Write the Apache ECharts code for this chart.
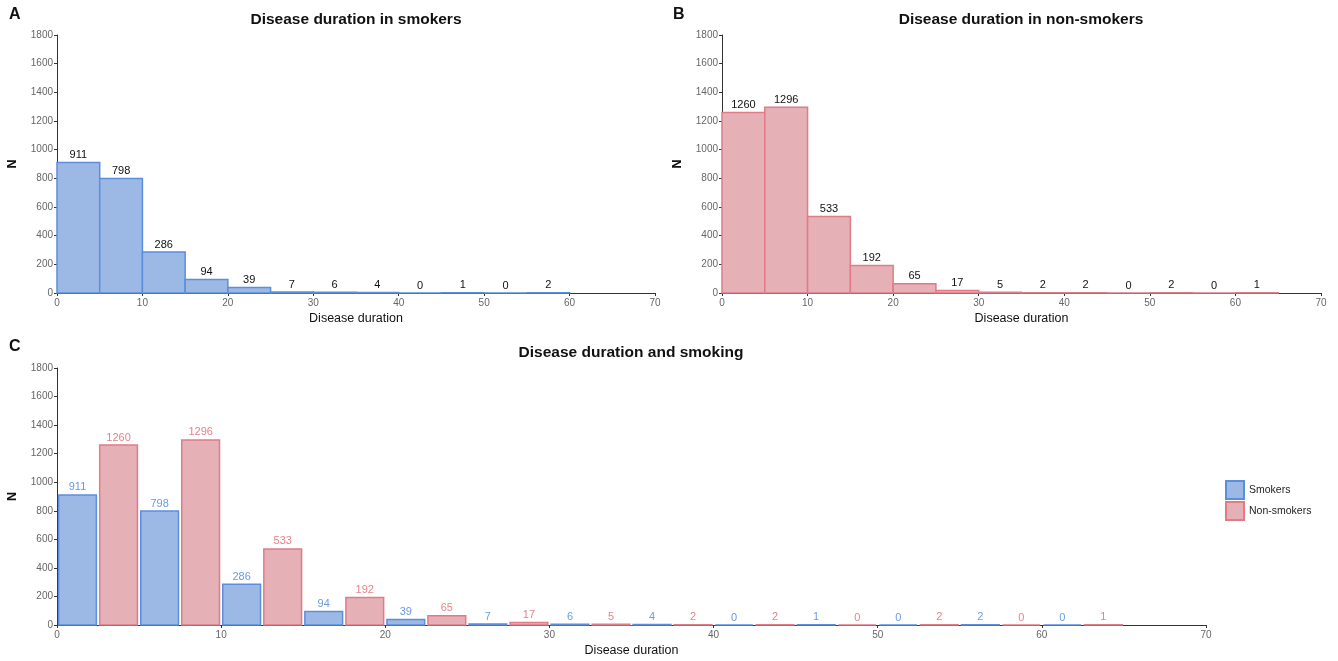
<!DOCTYPE html>
<html>
<head>
<meta charset="utf-8">
<script src="https://cdn.jsdelivr.net/npm/echarts@6/dist/echarts.min.js"></script>
<style>
html,body{margin:0;padding:0;background:#fff;}
#chart{width:1338px;height:661px;}
</style>
</head>
<body>
<div id="chart"></div>
<script>
// ---- data ----
const smokerBinStarts = [0, 5, 10, 15, 20, 25, 30, 35, 40, 45, 50, 55];
const smokers = [911, 798, 286, 94, 39, 7, 6, 4, 0, 1, 0, 2];
const nonSmokerBinStarts = [0, 5, 10, 15, 20, 25, 30, 35, 40, 45, 50, 55, 60];
const nonSmokers = [1260, 1296, 533, 192, 65, 17, 5, 2, 2, 0, 2, 0, 1];
const dodgedBinStarts = [0, 5, 10, 15, 20, 25, 30, 35, 40, 45, 50, 55, 60];
const smokersDodged = [911, 798, 286, 94, 39, 7, 6, 4, 0, 1, 0, 2, 0];
const nonSmokersDodged = [1260, 1296, 533, 192, 65, 17, 5, 2, 2, 0, 2, 0, 1];
const xTicks = [0, 10, 20, 30, 40, 50, 60, 70];
const yTicks = [0, 200, 400, 600, 800, 1000, 1200, 1400, 1600, 1800];
const binWidth = 5;

// ---- styles ----
const FONT = 'Liberation Sans, Arial, sans-serif';
const blueFill = '#9cb9e5', blueStroke = '#5b8ede', blueLabel = '#6a9ae6';
const redFill = '#e6b0b7', redStroke = '#e07b88', redLabel = '#e8818d';
const axisColor = '#333333', tickLabelColor = '#666666';

function histData(starts, counts, off, w) {
  return starts.map((s, i) => [s + off, s + off + w, counts[i]]);
}

function makeRender(fill, stroke, labelColor) {
  return function (params, api) {
    const x0 = api.value(0), x1 = api.value(1), n = api.value(2);
    const p0 = api.coord([x0, n]);
    const p1 = api.coord([x1, 0]);
    return {
      type: 'group',
      children: [
        {
          type: 'rect',
          shape: { x: p0[0], y: p0[1], width: p1[0] - p0[0], height: p1[1] - p0[1] },
          style: { fill: fill, stroke: stroke, lineWidth: 1.5 }
        },
        {
          type: 'text',
          x: (p0[0] + p1[0]) / 2,
          y: p0[1] - 2,
          style: {
            text: String(n), fill: labelColor, font: '11px ' + FONT,
            textAlign: 'center', textVerticalAlign: 'bottom'
          }
        }
      ]
    };
  };
}

function xAxis(gi) {
  return {
    type: 'value', gridIndex: gi, min: 0, max: 70, interval: 10,
    name: 'Disease duration', nameLocation: 'middle', nameGap: 19,
    nameTextStyle: { color: '#111', fontSize: 12.5, fontFamily: FONT },
    axisLine: { show: true, lineStyle: { color: axisColor, width: 1 } },
    axisTick: { show: true, length: 3, lineStyle: { color: axisColor } },
    axisLabel: { color: tickLabelColor, fontSize: 10, fontFamily: FONT, margin: 5,
      formatter: v => String(v), customValues: xTicks },
    splitLine: { show: false }
  };
}
function yAxis(gi) {
  return {
    type: 'value', gridIndex: gi, min: 0, max: 1800, interval: 200,
    name: 'N', nameLocation: 'middle', nameGap: 38, nameRotate: 90,
    nameTextStyle: { color: '#111', fontSize: 12.5, fontWeight: 'bold', fontFamily: FONT },
    axisLine: { show: true, lineStyle: { color: axisColor, width: 1 } },
    axisTick: { show: true, length: 3, lineStyle: { color: axisColor } },
    axisLabel: { color: tickLabelColor, fontSize: 10, fontFamily: FONT, margin: 4,
      formatter: v => String(v) },
    splitLine: { show: false }
  };
}

const chart = echarts.init(document.getElementById('chart'), null, { renderer: 'canvas' });
const titleStyle = { fill: '#111', font: 'bold 15.5px ' + FONT, textAlign: 'center', textVerticalAlign: 'middle' };

chart.setOption({
  animation: false,
  backgroundColor: '#ffffff',
  grid: [
    { left: 57, top: 35, width: 598, height: 258, containLabel: false, outerBoundsMode: 'none' },
    { left: 722, top: 35, width: 599, height: 258, containLabel: false, outerBoundsMode: 'none' },
    { left: 57, top: 368, width: 1149, height: 257, containLabel: false, outerBoundsMode: 'none' }
  ],
  xAxis: [xAxis(0), xAxis(1), xAxis(2)],
  yAxis: [yAxis(0), yAxis(1), yAxis(2)],
  legend: {
    orient: 'vertical', left: 1225, top: 480, padding: 0,
    itemWidth: 18, itemHeight: 18, itemGap: 1,
    icon: 'rect',
    textStyle: { color: '#222', fontSize: 10.5, fontFamily: FONT },
    data: ['Smokers', 'Non-smokers']
  },
  graphic: [
    { type: 'text', left: 9, top: 7, style: { text: 'A', fill: '#111', font: 'bold 16px ' + FONT } },
    { type: 'text', left: 673, top: 7, style: { text: 'B', fill: '#111', font: 'bold 16px ' + FONT } },
    { type: 'text', left: 9, top: 339, style: { text: 'C', fill: '#111', font: 'bold 16px ' + FONT } },
    { type: 'text', x: 356, y: 20, style: Object.assign({ text: 'Disease duration in smokers' }, titleStyle) },
    { type: 'text', x: 1021, y: 20, style: Object.assign({ text: 'Disease duration in non-smokers' }, titleStyle) },
    { type: 'text', x: 631, y: 353, style: Object.assign({ text: 'Disease duration and smoking' }, titleStyle) }
  ],
  series: [
    {
      type: 'custom', name: 'SmokersA', xAxisIndex: 0, yAxisIndex: 0,
      renderItem: makeRender(blueFill, blueStroke, '#111'),
      encode: { x: [0, 1], y: 2 },
      data: histData(smokerBinStarts, smokers, 0, binWidth)
    },
    {
      type: 'custom', name: 'NonSmokersB', xAxisIndex: 1, yAxisIndex: 1,
      renderItem: makeRender(redFill, redStroke, '#111'),
      encode: { x: [0, 1], y: 2 },
      data: histData(nonSmokerBinStarts, nonSmokers, 0, binWidth)
    },
    {
      type: 'custom', name: 'Smokers', xAxisIndex: 2, yAxisIndex: 2,
      itemStyle: { color: blueFill, borderColor: blueStroke, borderWidth: 1.5 },
      renderItem: makeRender(blueFill, blueStroke, blueLabel),
      encode: { x: [0, 1], y: 2 },
      data: histData(dodgedBinStarts, smokersDodged, 0.1, 2.3)
    },
    {
      type: 'custom', name: 'Non-smokers', xAxisIndex: 2, yAxisIndex: 2,
      itemStyle: { color: redFill, borderColor: redStroke, borderWidth: 1.5 },
      renderItem: makeRender(redFill, redStroke, redLabel),
      encode: { x: [0, 1], y: 2 },
      data: histData(dodgedBinStarts, nonSmokersDodged, 2.6, 2.3)
    }
  ]
});
</script>
</body>
</html>
